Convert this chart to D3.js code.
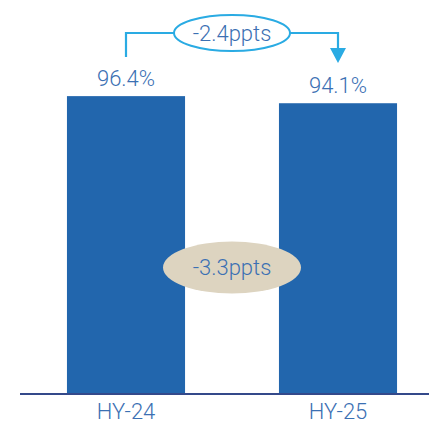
<!DOCTYPE html>
<html>
<head>
<meta charset="utf-8">
<script src="https://cdn.jsdelivr.net/npm/d3@7/dist/d3.min.js"></script>
<style>
  html, body { margin: 0; padding: 0; background: #fff; }
  svg { display: block; }
  text { font-family: Roboto, "Liberation Sans", Arial, sans-serif; font-weight: 300; }
</style>
</head>
<body>
<svg id="chart" width="429" height="425"></svg>
<script>
// Half-year ratios (%)
const periods = ["HY-24", "HY-25"];
const values = [96.4, 94.1];
const valueLabels = ["96.4%", "94.1%"];
const topChange = "-2.4ppts";
const midChange = "-3.3ppts";

const W = 429, H = 425;
const baseY = 394;
const fontSize = 22;

const svg = d3.select("#chart");

const x = d3.scaleBand()
  .domain(periods)
  .range([20, 444])
  .paddingInner(0.443)
  .paddingOuter(0.2215);

const y = d3.scaleLinear()
  .domain([0, 100])
  .range([baseY, 85]);

const barColor = "#2266ad";
const textColor = "#3b70b3";
const accent = "#2aabe3";

// Bars
svg.selectAll("rect.bar")
  .data(values)
  .join("rect")
  .attr("class", "bar")
  .attr("x", (d, i) => x(periods[i]))
  .attr("y", d => y(d))
  .attr("width", x.bandwidth())
  .attr("height", d => baseY - y(d))
  .attr("fill", barColor);

// Value labels above bars
svg.selectAll("text.val")
  .data(values)
  .join("text")
  .attr("class", "val")
  .attr("x", (d, i) => x(periods[i]) + x.bandwidth() / 2)
  .attr("y", d => y(d) - 10.5)
  .attr("text-anchor", "middle")
  .attr("font-size", fontSize)
  .attr("fill", textColor)
  .text((d, i) => valueLabels[i]);

// Category axis along the baseline
const xAxis = d3.axisBottom(x).tickSize(0).tickPadding(0);
const axisG = svg.append("g")
  .attr("transform", `translate(0,${baseY})`)
  .call(xAxis);
axisG.select(".domain").remove();
axisG.selectAll("text")
  .attr("y", 25)
  .attr("dy", null)
  .attr("font-size", fontSize)
  .attr("font-family", "Roboto, 'Liberation Sans', Arial, sans-serif")
  .attr("font-weight", 300)
  .attr("fill", textColor);
svg.append("line")
  .attr("x1", 20).attr("x2", W)
  .attr("y1", baseY).attr("y2", baseY)
  .attr("stroke", "#34498a")
  .attr("stroke-width", 2);

// Change bracket between the two bars
const cx0 = x(periods[0]) + x.bandwidth() / 2;
const cx1 = x(periods[1]) + x.bandwidth() / 2;
const midX = (cx0 + cx1) / 2;
const bracketY = 33;
const erx = 58, ery = 18;

svg.append("path")
  .attr("d", `M${cx0},57 V${bracketY} H${midX - erx}`)
  .attr("fill", "none")
  .attr("stroke", accent)
  .attr("stroke-width", 2.2);
svg.append("path")
  .attr("d", `M${midX + erx},${bracketY} H${cx1} V49`)
  .attr("fill", "none")
  .attr("stroke", accent)
  .attr("stroke-width", 2.2);
svg.append("path")
  .attr("d", `M${cx1 - 8},48 L${cx1 + 8},48 L${cx1},63 Z`)
  .attr("fill", accent);

svg.append("ellipse")
  .attr("cx", midX).attr("cy", bracketY)
  .attr("rx", erx).attr("ry", ery)
  .attr("fill", "#fff")
  .attr("stroke", accent)
  .attr("stroke-width", 2);
svg.append("text")
  .attr("x", midX).attr("y", bracketY)
  .attr("dy", "0.36em")
  .attr("text-anchor", "middle")
  .attr("font-size", fontSize)
  .attr("fill", textColor)
  .text(topChange);

// Middle change bubble
const midY = 267.5;
svg.append("ellipse")
  .attr("cx", midX).attr("cy", midY)
  .attr("rx", 69).attr("ry", 26)
  .attr("fill", "#ddd4c0");
svg.append("text")
  .attr("x", midX).attr("y", midY)
  .attr("dy", "0.36em")
  .attr("text-anchor", "middle")
  .attr("font-size", fontSize)
  .attr("fill", textColor)
  .text(midChange);
</script>
</body>
</html>
